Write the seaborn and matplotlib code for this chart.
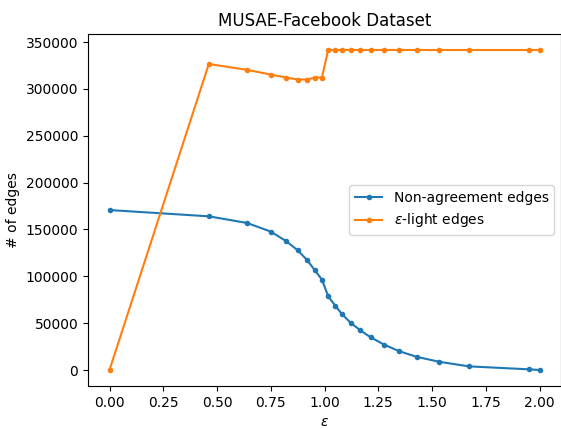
import matplotlib
matplotlib.use('Agg')
import matplotlib.pyplot as plt
import seaborn as sns
import pandas as pd

# epsilon values (x axis)
eps = [0.0, 0.462, 0.640, 0.750, 0.822, 0.876, 0.919, 0.955, 0.988, 1.017,
       1.050, 1.081, 1.121, 1.166, 1.214, 1.276, 1.347, 1.428, 1.533, 1.671,
       1.952, 2.0]

# number of non-agreement edges
non_agreement = [170700, 164000, 156900, 147700, 137500, 127600, 117400, 106400,
                 96500, 78800, 68600, 59700, 50500, 42400, 35000, 27200, 20100,
                 14100, 8800, 3900, 700, 0]

# number of eps-light edges
eps_light = [0, 326600, 320300, 315300, 312100, 310000, 310000, 312100, 312100,
             341500, 341500, 341500, 341500, 341500, 341500, 341500, 341500,
             341500, 341500, 341500, 341500, 341500]

df = pd.DataFrame({"eps": eps, "non_agreement": non_agreement, "eps_light": eps_light})

fig = plt.figure(figsize=(5.61, 4.29), dpi=100)
ax = fig.add_axes([88 / 561, 43 / 429, 473 / 561, 352 / 429])

sns.lineplot(data=df, x="eps", y="non_agreement", marker="o", markersize=4,
             markeredgewidth=0, color="#1f77b4", label="Non-agreement edges", ax=ax)
sns.lineplot(data=df, x="eps", y="eps_light", marker="o", markersize=4,
             markeredgewidth=0, color="#ff7f0e", label=r"$\epsilon$-light edges", ax=ax)

ax.set_title("MUSAE-Facebook Dataset")
ax.set_xlabel(r"$\epsilon$")
ax.set_ylabel("# of edges")
ax.set_xticks([0, 0.25, 0.5, 0.75, 1.0, 1.25, 1.5, 1.75, 2.0])
ax.legend(loc="center right")

fig.savefig("out.png", dpi=100)
